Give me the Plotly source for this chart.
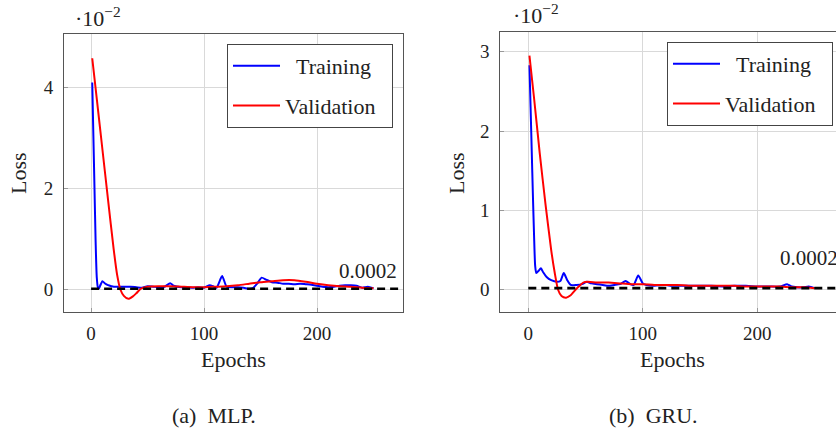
import plotly.graph_objects as go

# ---- data (loss values in units of 1e-2) ----
mlp_train_epochs = [1, 2, 3, 4, 5, 6, 7, 8, 10, 12, 15, 18, 20, 25, 30, 35, 40, 45, 50, 55, 60, 65, 70, 73,
                    80, 85, 90, 95, 100, 105, 108, 111, 116, 120, 125, 130, 135, 140, 143, 147, 151, 155, 160,
                    165, 170, 175, 180, 185, 190, 195, 200, 205, 210, 215, 220, 225, 230, 235, 240, 245, 250]
mlp_train_loss = [4.1, 3.05, 2.0, 0.95, 0.25, 0.05, 0.03, 0.08, 0.17, 0.13, 0.09, 0.07, 0.06, 0.06, 0.06, 0.06,
                  0.05, 0.04, 0.07, 0.06, 0.05, 0.06, 0.13, 0.08, 0.05, 0.05, 0.04, 0.05, 0.04, 0.09, 0.07, 0.04,
                  0.27, 0.06, 0.05, 0.05, 0.04, 0.02, 0.03, 0.12, 0.24, 0.2, 0.15, 0.14, 0.12, 0.12, 0.11, 0.12,
                  0.11, 0.1, 0.08, 0.06, 0.05, 0.06, 0.08, 0.09, 0.09, 0.08, 0.04, 0.06, 0.03]
mlp_val_epochs = [1, 5, 10, 15, 20, 23, 26, 29, 33, 37, 40, 44, 50, 60, 70, 80, 90, 100, 110, 120, 130, 140,
                  150, 160, 170, 180, 190, 200, 210, 220, 230, 240, 250]
mlp_val_loss = [4.58, 3.78, 2.78, 1.78, 0.8, 0.3, 0.0, -0.12, -0.18, -0.13, -0.07, 0.02, 0.06, 0.07, 0.07,
                0.06, 0.05, 0.05, 0.06, 0.07, 0.09, 0.12, 0.15, 0.17, 0.19, 0.19, 0.16, 0.12, 0.09, 0.07, 0.06,
                0.04, 0.03]

gru_train_epochs = [1, 2, 3, 4, 5, 6, 7, 9, 11, 13, 16, 20, 25, 28, 31, 34, 37, 42, 47, 51, 55, 60, 65, 70, 75,
                    80, 85, 89, 92, 96, 100, 103, 110, 120, 125, 130, 140, 150, 160, 170, 180, 190, 200, 210,
                    220, 226, 230, 240, 245, 250]
gru_train_loss = [2.83, 2.3, 1.75, 1.2, 0.7, 0.3, 0.21, 0.24, 0.27, 0.22, 0.16, 0.12, 0.1, 0.11, 0.21, 0.12,
                  0.06, 0.06, 0.07, 0.1, 0.08, 0.07, 0.06, 0.05, 0.06, 0.07, 0.11, 0.07, 0.06, 0.18, 0.08, 0.06,
                  0.05, 0.06, 0.05, 0.05, 0.05, 0.05, 0.05, 0.04, 0.05, 0.05, 0.04, 0.04, 0.04, 0.07, 0.04, 0.03,
                  0.04, 0.02]
gru_val_epochs = [1, 5, 10, 15, 20, 23, 26, 29, 33, 37, 40, 44, 48, 52, 60, 70, 80, 90, 100, 110, 120, 130, 140,
                  150, 160, 170, 180, 190, 200, 210, 220, 230, 240, 250]
gru_val_loss = [2.95, 2.42, 1.72, 1.08, 0.5, 0.22, 0.0, -0.08, -0.1, -0.07, -0.02, 0.04, 0.09, 0.1, 0.09, 0.09,
                0.08, 0.07, 0.07, 0.06, 0.06, 0.06, 0.05, 0.05, 0.05, 0.05, 0.05, 0.04, 0.04, 0.04, 0.04, 0.03,
                0.03, 0.02]

threshold_x = [0, 300]
threshold_y = [0.02, 0.02]
threshold_label = "0.0002"

x_ticks = [0, 100, 200]
mlp_y_ticks = [0, 2, 4]
gru_y_ticks = [0, 1, 2, 3]

FONT = "Liberation Serif, Times New Roman, DejaVu Serif, serif"
TXT = "#222222"
W, H = 836, 431
BLUE = "#0000ff"
RED = "#ff0000"

fig = go.Figure()

def add_panel(xa, ya, leg, tr_x, tr_y, va_x, va_y):
    fig.add_trace(go.Scatter(x=tr_x, y=tr_y, mode="lines", name="\u00a0\u00a0Training",
                             line=dict(color=BLUE, width=2, shape="spline", smoothing=0.6),
                             xaxis=xa, yaxis=ya, legend=leg, legendgroup=leg + "t"))
    fig.add_trace(go.Scatter(x=va_x, y=va_y, mode="lines", name="Validation\u00a0\u00a0",
                             line=dict(color=RED, width=2, shape="spline", smoothing=0.6),
                             xaxis=xa, yaxis=ya, legend=leg, legendgroup=leg + "v"))
    fig.add_trace(go.Scatter(x=threshold_x, y=threshold_y, mode="lines", showlegend=False,
                             line=dict(color="black", width=2.6, dash="8px,5px"),
                             xaxis=xa, yaxis=ya))

add_panel("x", "y", "legend", mlp_train_epochs, mlp_train_loss, mlp_val_epochs, mlp_val_loss)
add_panel("x2", "y2", "legend2", gru_train_epochs, gru_train_loss, gru_val_epochs, gru_val_loss)

axis_common = dict(showgrid=True, gridcolor="#d9d9d9", gridwidth=1, zeroline=False,
                   showline=True, linecolor="#555555", linewidth=1,
                   ticks="inside", ticklen=4, tickcolor="#999999",
                   tickfont=dict(family=FONT, size=19, color=TXT))

legend_common = dict(xanchor="right", yanchor="top", bgcolor="white",
                     bordercolor="#444444", borderwidth=1, font=dict(family=FONT, size=22, color=TXT),
                     itemwidth=47, traceorder="grouped", tracegroupgap=8)

fig.update_layout(
    width=W, height=H, margin=dict(l=0, r=0, t=0, b=0),
    paper_bgcolor="white", plot_bgcolor="white",
    font=dict(family=FONT, size=20, color=TXT),
    xaxis=dict(domain=[64 / W, 403.3 / W], range=[-24, 276.4], tickvals=x_ticks, mirror=True,
               ticklabelstandoff=4, **axis_common),
    yaxis=dict(domain=[1 - 312 / H, 1 - 34 / H], range=[-0.44, 5.06], tickvals=mlp_y_ticks, mirror=True,
               ticklabelstandoff=6, **axis_common),
    xaxis2=dict(domain=[500.3 / W, 1], range=[-24.45, 268.7], tickvals=x_ticks, mirror=True,
                anchor="y2", ticklabelstandoff=4, **axis_common),
    yaxis2=dict(domain=[1 - 311.7 / H, 1 - 32.3 / H], range=[-0.277, 3.245], tickvals=gru_y_ticks,
                mirror=False, anchor="x2", ticklabelstandoff=6, **axis_common),
    legend=dict(x=393 / W, y=1 - 44 / H, **legend_common),
    legend2=dict(x=833 / W, y=1 - 42 / H, **legend_common),
)

annos = [
    dict(text="Loss", x=18 / W, y=1 - 173 / H, textangle=-90),
    dict(text="Loss", x=456 / W, y=1 - 173 / H, textangle=-90),
    dict(text="Epochs", x=233 / W, y=1 - 359 / H),
    dict(text="Epochs", x=672 / W, y=1 - 359 / H),
    dict(text="(a)\u00a0 MLP.", x=214 / W, y=1 - 415 / H),
    dict(text="(b)\u00a0 GRU.", x=653 / W, y=1 - 415 / H),
    dict(text="·10<sup>−2</sup>", x=98 / W, y=1 - 17 / H),
    dict(text="·10<sup>−2</sup>", x=536 / W, y=1 - 14.5 / H),
]
for a in annos:
    fig.add_annotation(xref="paper", yref="paper", showarrow=False, xanchor="center", yanchor="middle",
                       font=dict(family=FONT, size=22, color=TXT), **a)

fig.add_annotation(x=244.7, y=0.376, xref="x", yref="y", text=threshold_label, showarrow=False,
                   xanchor="center", yanchor="middle", font=dict(family=FONT, size=21, color=TXT))
fig.add_annotation(x=244.7, y=0.40, xref="x2", yref="y2", text=threshold_label, showarrow=False,
                   xanchor="center", yanchor="middle", font=dict(family=FONT, size=21, color=TXT))

fig.write_html("out.html")
